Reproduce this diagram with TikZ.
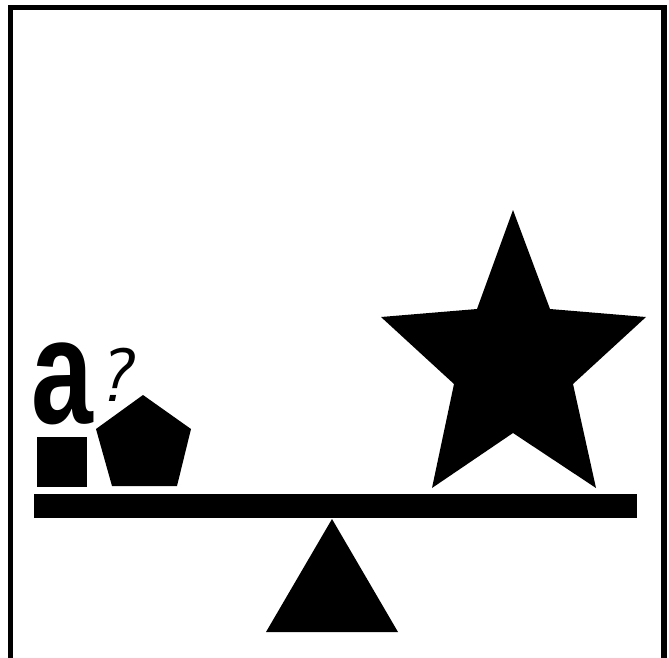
\documentclass[tikz,border=0pt]{standalone}
\usepackage{fontspec}
\usepackage{tikz}
\usetikzlibrary{positioning,calc}
\newfontfamily\glyphfont{Liberation Sans}
\tikzset{
  solid shape/.style={fill=black,draw=none},
  frame/.style={draw=black,line width=5.5pt},
  glyph/.style={inner sep=0pt,outer sep=0pt},
}

\begin{document}
\begin{tikzpicture}[x=1pt,y=-1pt]
\useasboundingbox (0,0) rectangle (669,658);
\clip (0,0) rectangle (669,658);
\draw[frame] (10.5,7.5) rectangle (664,720);
% beam and pivot
\coordinate (b1) at (34,494);
\coordinate (b2) at (637,518);
\fill[solid shape] (b1) rectangle (b2);
\coordinate (t1) at (332,519);
\coordinate (t2) at (398,632);
\coordinate (t3) at (266,632);
\fill[solid shape] (t1)--(t2)--(t3)--cycle;
% star
\fill[solid shape] (513,210)--(550,309)--(646,317)--(573,384)--(596,488)
  --(513,433)--(432,488)--(454,384)--(381,317)--(477,309)--cycle;
% square and pentagon
\fill[solid shape] (37,437) rectangle (87,487);
\fill[solid shape] (143,395)--(191,429)--(177,486)--(112,486)--(96,429)--cycle;
% letter and question mark
\node[glyph,anchor=base] (letA) at (62,423)
  {\scalebox{0.74}[1]{\fontsize{150}{150}\glyphfont\bfseries a}};
\node[glyph,anchor=base west] (qmark) at (96,401)
  {\fontsize{76}{76}\sffamily\itshape ?};
\end{tikzpicture}
\end{document}
